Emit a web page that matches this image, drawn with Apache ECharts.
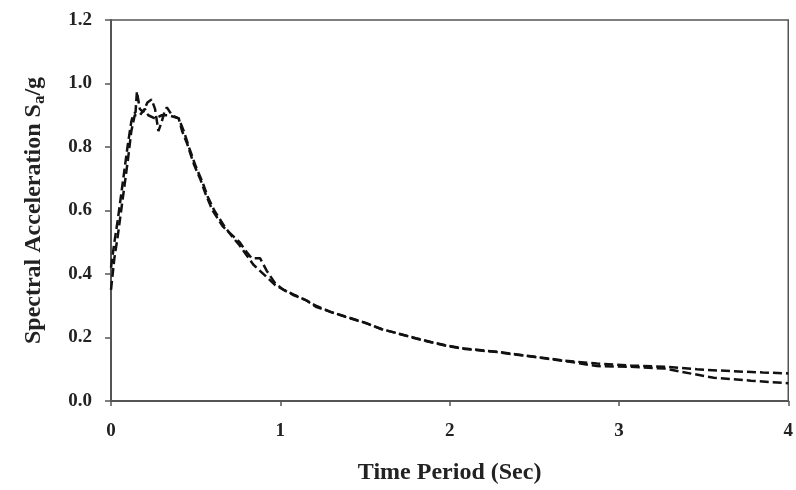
<!DOCTYPE html>
<html>
<head>
<meta charset="utf-8">
<script src="https://cdn.jsdelivr.net/npm/echarts@6/dist/echarts.min.js"></script>
<style>
  html, body { margin: 0; padding: 0; background: #fff; }
  #chart { width: 796px; height: 490px; }
</style>
</head>
<body>
<div id="chart"></div>
<script>
// Spectrum A: [period (s), Sa/g]
const spectrumA = [
  [0, 0.42], [0.02, 0.50], [0.04, 0.57], [0.06, 0.65], [0.08, 0.73], [0.10, 0.81],
  [0.12, 0.88], [0.13, 0.90], [0.145, 0.91], [0.153, 0.975], [0.17, 0.92], [0.19, 0.91],
  [0.215, 0.94], [0.24, 0.95], [0.26, 0.92], [0.28, 0.85], [0.30, 0.88], [0.315, 0.91],
  [0.33, 0.925], [0.36, 0.90], [0.40, 0.89], [0.42, 0.85], [0.45, 0.81], [0.49, 0.745],
  [0.53, 0.695], [0.56, 0.65], [0.60, 0.60], [0.66, 0.55], [0.72, 0.52], [0.76, 0.50],
  [0.80, 0.47], [0.83, 0.45], [0.88, 0.45], [0.92, 0.41], [0.97, 0.37], [1.02, 0.35],
  [1.08, 0.335], [1.15, 0.318], [1.21, 0.30], [1.30, 0.28], [1.385, 0.266], [1.50, 0.247],
  [1.60, 0.226], [1.70, 0.212], [1.80, 0.198], [1.89, 0.186], [1.99, 0.174], [2.09, 0.165],
  [2.28, 0.155], [2.48, 0.141], [2.68, 0.127], [2.87, 0.118], [3.07, 0.112], [3.27, 0.108],
  [3.46, 0.100], [3.66, 0.094], [3.85, 0.090], [4.0, 0.087]
];

// Spectrum B: [period (s), Sa/g]
const spectrumB = [
  [0, 0.35], [0.02, 0.45], [0.04, 0.52], [0.06, 0.60], [0.08, 0.68], [0.10, 0.76],
  [0.12, 0.85], [0.14, 0.90], [0.17, 0.90], [0.20, 0.92], [0.22, 0.90], [0.26, 0.89],
  [0.30, 0.90], [0.34, 0.90], [0.40, 0.89], [0.43, 0.85], [0.46, 0.80], [0.50, 0.74],
  [0.54, 0.69], [0.57, 0.645], [0.61, 0.60], [0.67, 0.55], [0.72, 0.515], [0.76, 0.49],
  [0.80, 0.46], [0.84, 0.43], [0.88, 0.41], [0.92, 0.39], [0.97, 0.365], [1.02, 0.35],
  [1.08, 0.333], [1.15, 0.318], [1.21, 0.297], [1.30, 0.28], [1.385, 0.265], [1.50, 0.246],
  [1.60, 0.226], [1.70, 0.212], [1.80, 0.197], [1.89, 0.185], [1.99, 0.173], [2.09, 0.164],
  [2.28, 0.154], [2.48, 0.140], [2.68, 0.126], [2.87, 0.110], [3.07, 0.108], [3.27, 0.102],
  [3.36, 0.093], [3.56, 0.073], [3.78, 0.064], [4.0, 0.056]
];

const chart = echarts.init(document.getElementById('chart'));

const axisColor = '#555';
const serifBold = {
  fontFamily: 'Liberation Serif',
  fontWeight: 'bold',
  color: '#222'
};

const dashed = {
  color: '#111',
  width: 2.5,
  type: [9, 4]
};

chart.setOption({
  animation: false,
  grid: {
    left: 111, right: 4, top: 20, bottom: 78,
    show: true,
    borderColor: axisColor,
    borderWidth: 1.5
  },
  xAxis: {
    type: 'value',
    min: 0, max: 4, interval: 1,
    name: 'Time Period (Sec)',
    nameLocation: 'middle',
    nameGap: 60,
    nameTextStyle: { ...serifBold, fontSize: 24 },
    axisLine: { show: true, lineStyle: { color: axisColor, width: 2 } },
    axisTick: { show: true, inside: false, length: 5, lineStyle: { color: axisColor, width: 1.5 } },
    axisLabel: { ...serifBold, fontSize: 19, margin: 21 },
    splitLine: { show: false }
  },
  yAxis: {
    type: 'value',
    min: 0, max: 1.2, interval: 0.2,
    name: '{t|Spectral Acceleration S}{sub|a}{t|/g}',
    nameLocation: 'middle',
    nameGap: 63,
    nameRotate: 90,
    nameTextStyle: {
      ...serifBold,
      fontSize: 24,
      rich: {
        t: { ...serifBold, fontSize: 24 },
        sub: { ...serifBold, fontSize: 17, verticalAlign: 'bottom', padding: [12, 0, 0, 0] }
      }
    },
    axisLine: { show: true, lineStyle: { color: axisColor, width: 2 } },
    axisTick: { show: true, inside: false, length: 6, lineStyle: { color: axisColor, width: 1.5 } },
    axisLabel: {
      ...serifBold,
      fontSize: 19,
      margin: 19,
      formatter: v => v.toFixed(1)
    },
    splitLine: { show: false }
  },
  series: [
    {
      name: 'A',
      type: 'line',
      data: spectrumA,
      showSymbol: false,
      lineStyle: dashed
    },
    {
      name: 'B',
      type: 'line',
      data: spectrumB,
      showSymbol: false,
      lineStyle: dashed
    }
  ]
});

window.addEventListener('resize', () => chart.resize());
</script>
</body>
</html>
